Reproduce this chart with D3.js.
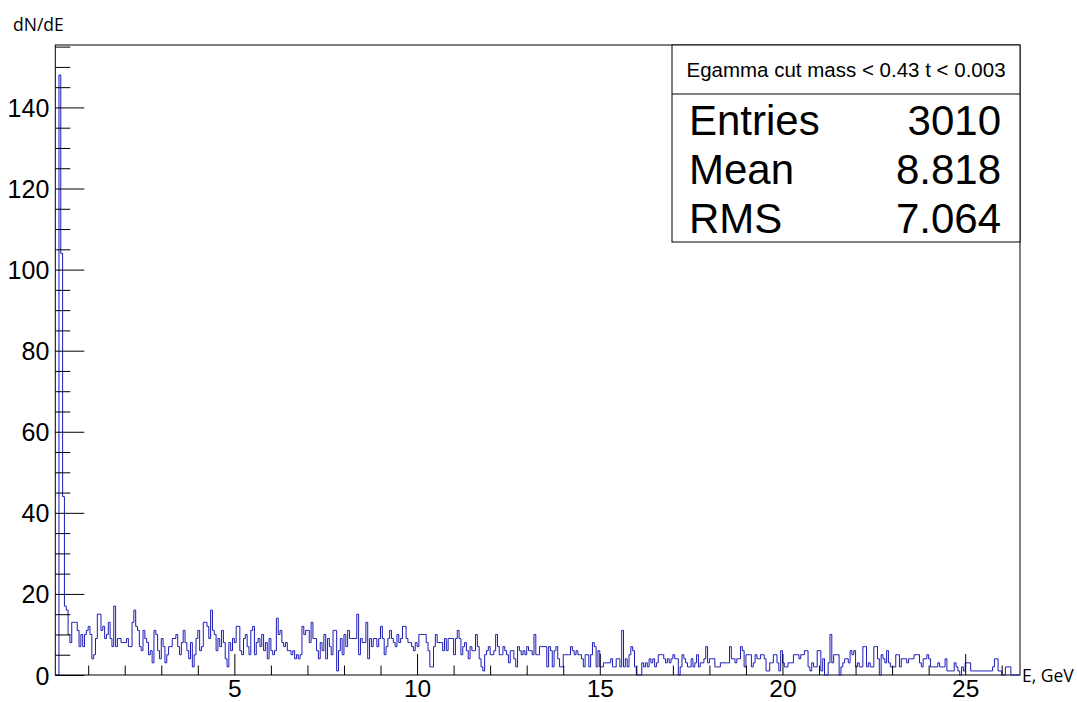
<!DOCTYPE html>
<html>
<head>
<meta charset="utf-8">
<script src="https://cdn.jsdelivr.net/npm/d3@7"></script>
<style>
  html, body { margin: 0; padding: 0; background: #ffffff; }
  svg { display: block; }
</style>
</head>
<body>
<svg id="chart" width="1077" height="702"></svg>
<script>
// Energy spectrum, 528 bins of 0.05 GeV from 0.1 to 26.5 GeV
const binLow = 0.1;
const binWidth = 0.05;
const counts = [
  0,0,148,104,44,17,16,10,8,13,13,13,11,7,10,7,10,11,12,10,
  4,5,9,15,15,11,12,9,10,13,9,7,17,7,9,9,8,8,8,9,
  7,7,13,16,12,11,7,6,11,9,8,5,6,3,11,10,6,4,9,7,
  3,5,7,7,9,9,10,7,5,8,11,8,6,4,8,2,5,9,11,6,
  7,13,13,12,9,16,11,10,6,9,7,11,8,4,2,8,6,9,8,12,
  12,6,5,9,10,7,5,11,12,5,8,9,7,10,6,8,4,9,6,5,
  6,14,10,11,8,7,8,6,6,5,6,4,5,4,5,12,10,11,11,8,
  13,9,9,6,4,8,6,10,4,9,7,5,11,11,1,6,9,5,10,7,
  11,9,9,9,9,15,5,9,8,8,13,4,9,7,9,9,7,9,12,9,
  5,7,9,11,9,8,7,10,8,9,12,12,9,8,8,7,6,8,7,10,
  10,10,10,8,6,2,2,7,10,8,8,8,6,9,6,9,9,9,5,9,
  11,9,5,7,8,6,4,7,6,6,10,7,4,2,1,5,6,7,5,5,
  6,10,7,5,5,7,6,5,3,6,6,4,2,7,6,5,6,5,7,6,
  6,5,10,5,5,7,7,7,7,2,7,6,2,6,7,4,2,2,5,5,
  5,5,7,6,5,6,5,5,4,2,5,5,2,5,8,7,2,6,2,2,
  3,3,3,3,4,2,2,4,4,2,11,2,4,2,5,7,6,2,0,0,
  0,3,2,3,2,4,3,4,2,3,5,5,5,4,3,4,3,4,5,4,
  4,0,2,5,4,3,2,2,4,2,3,5,2,3,3,4,7,3,4,4,
  4,2,2,2,3,3,3,3,3,7,4,4,3,4,4,7,6,2,5,5,
  5,2,3,5,4,4,5,5,4,1,1,3,3,5,5,3,1,6,3,2,
  2,3,3,3,5,5,5,4,5,5,6,6,2,1,3,2,2,6,6,1,
  4,0,0,3,10,3,5,5,5,0,2,3,4,4,3,6,5,6,2,3,
  2,2,7,7,2,3,2,2,7,7,4,0,5,4,3,6,3,2,2,2,
  5,5,2,4,4,4,3,4,4,4,5,5,5,3,2,4,4,5,4,2,
  2,2,2,3,2,2,2,4,1,1,1,1,3,2,1,0,2,1,3,3,
  3,1,1,1,1,1,1,1,1,1,1,1,1,2,4,4,1,1,0,0,
  2,2,2,0,0,0,0,0
];

const xMajorTicks = [5, 10, 15, 20, 25];
const xMinorTicks = [1,2,3,4,6,7,8,9,11,12,13,14,16,17,18,19,21,22,23,24,26];
const yMajorTicks = [0, 20, 40, 60, 80, 100, 120, 140];
const yMinorTicks = [5,10,15,25,30,35,45,50,55,65,70,75,85,90,95,105,110,115,125,130,135,145,150,155];

const xTitle = "E, GeV";
const yTitle = "dN/dE";
const statsTitle = "Egamma cut mass < 0.43 t < 0.003";
const statsNames = ["Entries", "Mean", "RMS"];
const statsValues = ["3010", "8.818", "7.064"];

// ---- layout ----
const frame = { left: 55.3, right: 1020, top: 45, bottom: 675 };
const binHigh = binLow + binWidth * counts.length;
const yMax = d3.max(counts) * 1.05;

const svg = d3.select("#chart");
const x = d3.scaleLinear().domain([binLow, binHigh]).range([frame.left, frame.right]);
const y = d3.scaleLinear().domain([0, yMax]).range([frame.bottom, frame.top]);

const axisFont = "'Liberation Sans', Arial, Helvetica, sans-serif";

// frame
svg.append("rect")
  .attr("x", frame.left).attr("y", frame.top)
  .attr("width", frame.right - frame.left)
  .attr("height", frame.bottom - frame.top)
  .attr("fill", "none").attr("stroke", "#000").attr("stroke-width", 1);

// histogram outline (step line)
const pts = [[binLow, 0]];
counts.forEach((c, i) => pts.push([binLow + i * binWidth, c]));
pts.push([binHigh, counts[counts.length - 1]]);
pts.push([binHigh, 0]);

const line = d3.line()
  .x(d => x(d[0]))
  .y(d => y(d[1]))
  .curve(d3.curveStepAfter);

svg.append("path")
  .attr("d", line(pts))
  .attr("fill", "none")
  .attr("stroke", "#1c1cb8")
  .attr("stroke-width", 1);

// axes with ticks pointing into the frame
function styleAxis(g) {
  g.select(".domain").remove();
  g.selectAll(".tick line").attr("stroke", "#000").attr("stroke-width", 1);
  g.selectAll("text")
    .attr("fill", "#000")
    .style("font-family", axisFont)
    .style("font-size", "25px");
}

svg.append("g")
  .attr("transform", `translate(0,${frame.bottom})`)
  .call(d3.axisBottom(x).tickValues(xMinorTicks).tickSize(-9.5).tickFormat(""))
  .call(styleAxis);

svg.append("g")
  .attr("transform", `translate(0,${frame.bottom})`)
  .call(d3.axisBottom(x).tickValues(xMajorTicks).tickSize(-21).tickPadding(5).tickFormat(d3.format("d")))
  .call(styleAxis)
  .call(g => g.selectAll("text").style("font-size", "24.5px"));

svg.append("g")
  .attr("transform", `translate(${frame.left},0)`)
  .call(d3.axisLeft(y).tickValues(yMinorTicks).tickSize(-15).tickFormat(""))
  .call(styleAxis);

svg.append("g")
  .attr("transform", `translate(${frame.left},0)`)
  .call(d3.axisLeft(y).tickValues(yMajorTicks).tickSize(-29).tickPadding(6).tickFormat(d3.format("d")))
  .call(styleAxis)
  .call(g => g.selectAll("text").attr("dy", "0.36em"));

// axis titles
const titleFont = "'Open Sans', 'DejaVu Sans', sans-serif";
svg.append("text")
  .attr("x", 13).attr("y", 31)
  .style("font-family", titleFont).style("font-size", "17.5px")
  .attr("fill", "#000")
  .text(yTitle);

svg.append("text")
  .attr("x", 1022).attr("y", 682)
  .style("font-family", titleFont).style("font-size", "17.5px")
  .attr("fill", "#000")
  .text(xTitle);

// statistics box
const box = { left: 672, right: frame.right, top: frame.top, sep: 94, bottom: 242 };
svg.append("rect")
  .attr("x", box.left).attr("y", box.top)
  .attr("width", box.right - box.left).attr("height", box.bottom - box.top)
  .attr("fill", "#fff").attr("stroke", "#000").attr("stroke-width", 1);
svg.append("line")
  .attr("x1", box.left).attr("x2", box.right)
  .attr("y1", box.sep).attr("y2", box.sep)
  .attr("stroke", "#000").attr("stroke-width", 1);

svg.append("text")
  .attr("x", (box.left + box.right) / 2).attr("y", 77)
  .attr("text-anchor", "middle")
  .style("font-family", axisFont).style("font-size", "20.5px")
  .attr("fill", "#000")
  .text(statsTitle);

const rowY = d3.scalePoint().domain(statsNames).range([135, 233]);
statsNames.forEach((name, i) => {
  svg.append("text")
    .attr("x", 689).attr("y", rowY(name))
    .style("font-family", axisFont).style("font-size", "42px")
    .attr("fill", "#000")
    .text(name);
  svg.append("text")
    .attr("x", 1001).attr("y", rowY(name))
    .attr("text-anchor", "end")
    .style("font-family", axisFont).style("font-size", "42px")
    .attr("fill", "#000")
    .text(statsValues[i]);
});
</script>
</body>
</html>
